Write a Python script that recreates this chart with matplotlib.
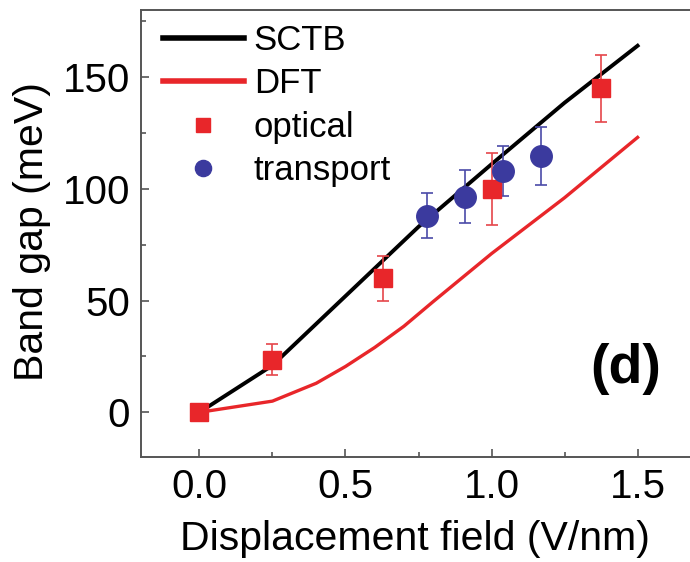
import matplotlib

matplotlib.use("Agg")
import matplotlib.pyplot as plt
from matplotlib.ticker import MultipleLocator

# theory curves
field_sctb = [0.0, 0.25, 0.5, 0.75, 1.0, 1.25, 1.5]
gap_sctb = [0.0, 21.0, 52.0, 83.0, 111.0, 138.5, 164.0]
field_dft = [0.0, 0.25, 0.4, 0.5, 0.6, 0.7, 0.8, 1.0, 1.25, 1.5]
gap_dft = [0.0, 5.0, 13.0, 20.5, 29.0, 38.5, 49.5, 71.0, 96.0, 123.0]

# measurements
field_optical = [0.0, 0.25, 0.63, 1.0, 1.375]
gap_optical = [0.0, 23.5, 60.0, 100.0, 145.0]
err_optical = [0.0, 7.0, 10.0, 16.0, 15.0]
field_transport = [0.78, 0.91, 1.04, 1.17]
gap_transport = [88.0, 96.5, 108.0, 114.5]
err_transport = [10.0, 12.0, 11.0, 13.0]

x_ticks = [0.0, 0.5, 1.0, 1.5]
x_tick_labels = ["0.0", "0.5", "1.0", "1.5"]
y_ticks = [0, 50, 100, 150]

RED = "#e8262a"
BLUE = "#3b3a9e"
SPINE = "#555555"

plt.rcParams["font.family"] = ["Liberation Sans", "DejaVu Sans"]

figure = plt.figure(figsize=(6.9, 5.62), dpi=100)
axis = figure.add_axes([141 / 690, 1 - 457 / 562, 555 / 690, 447 / 562])

(sctb_line,) = axis.plot(field_sctb, gap_sctb, color="black", linewidth=2.8,
                         label="SCTB", zorder=3)
(dft_line,) = axis.plot(field_dft, gap_dft, color=RED, linewidth=2.4,
                        label="DFT", zorder=3)
optical = axis.errorbar(
    field_optical, gap_optical, yerr=err_optical, fmt="s", color=RED,
    markersize=13.5, ecolor="#e5464a", elinewidth=1.2, capsize=4,
    capthick=1.2, label="optical", zorder=4,
)
transport = axis.errorbar(
    field_transport, gap_transport, yerr=err_transport, fmt="o", color=BLUE,
    markersize=15.5, ecolor="#4a4aa8", elinewidth=1.2, capsize=4,
    capthick=1.2, label="transport", zorder=4,
)

axis.set_xlim(-0.2, 1.7)
axis.set_ylim(-20, 180)
axis.xaxis.set_minor_locator(MultipleLocator(0.25))
axis.yaxis.set_minor_locator(MultipleLocator(25))
axis.set_xticks(x_ticks)
axis.set_xticklabels(x_tick_labels)
axis.set_yticks(y_ticks)

axis.tick_params(which="major", direction="in", length=6, width=1.2,
                 color=SPINE, labelsize=29, pad=8)
axis.tick_params(which="minor", direction="in", length=3.5, width=1.2,
                 color=SPINE)
for spine in axis.spines.values():
    spine.set_color(SPINE)
    spine.set_linewidth(1.4)

axis.set_xlabel("Displacement field (V/nm)", fontsize=29.5)
axis.set_ylabel("Band gap (meV)", fontsize=29.5)
axis.xaxis.set_label_coords(0.494, -0.142)
axis.yaxis.set_label_coords(-0.163, 0.505)

legend = axis.legend(
    [sctb_line, dft_line, optical[0], transport[0]],
    ["SCTB", "DFT", "optical", "transport"],
    loc="upper left", frameon=False, fontsize=25,
    handlelength=2.33, handletextpad=0.29, labelspacing=0.3,
    markerscale=0.75, borderaxespad=0.0, bbox_to_anchor=(0.014, 1.0),
)
for handle in legend.legend_handles[:2]:
    handle.set_linewidth(4)

axis.text(1.459, 19.3, "(d)", fontsize=40, weight="bold", ha="center",
          va="center")

figure.savefig("out.png", dpi=100)
plt.close(figure)
